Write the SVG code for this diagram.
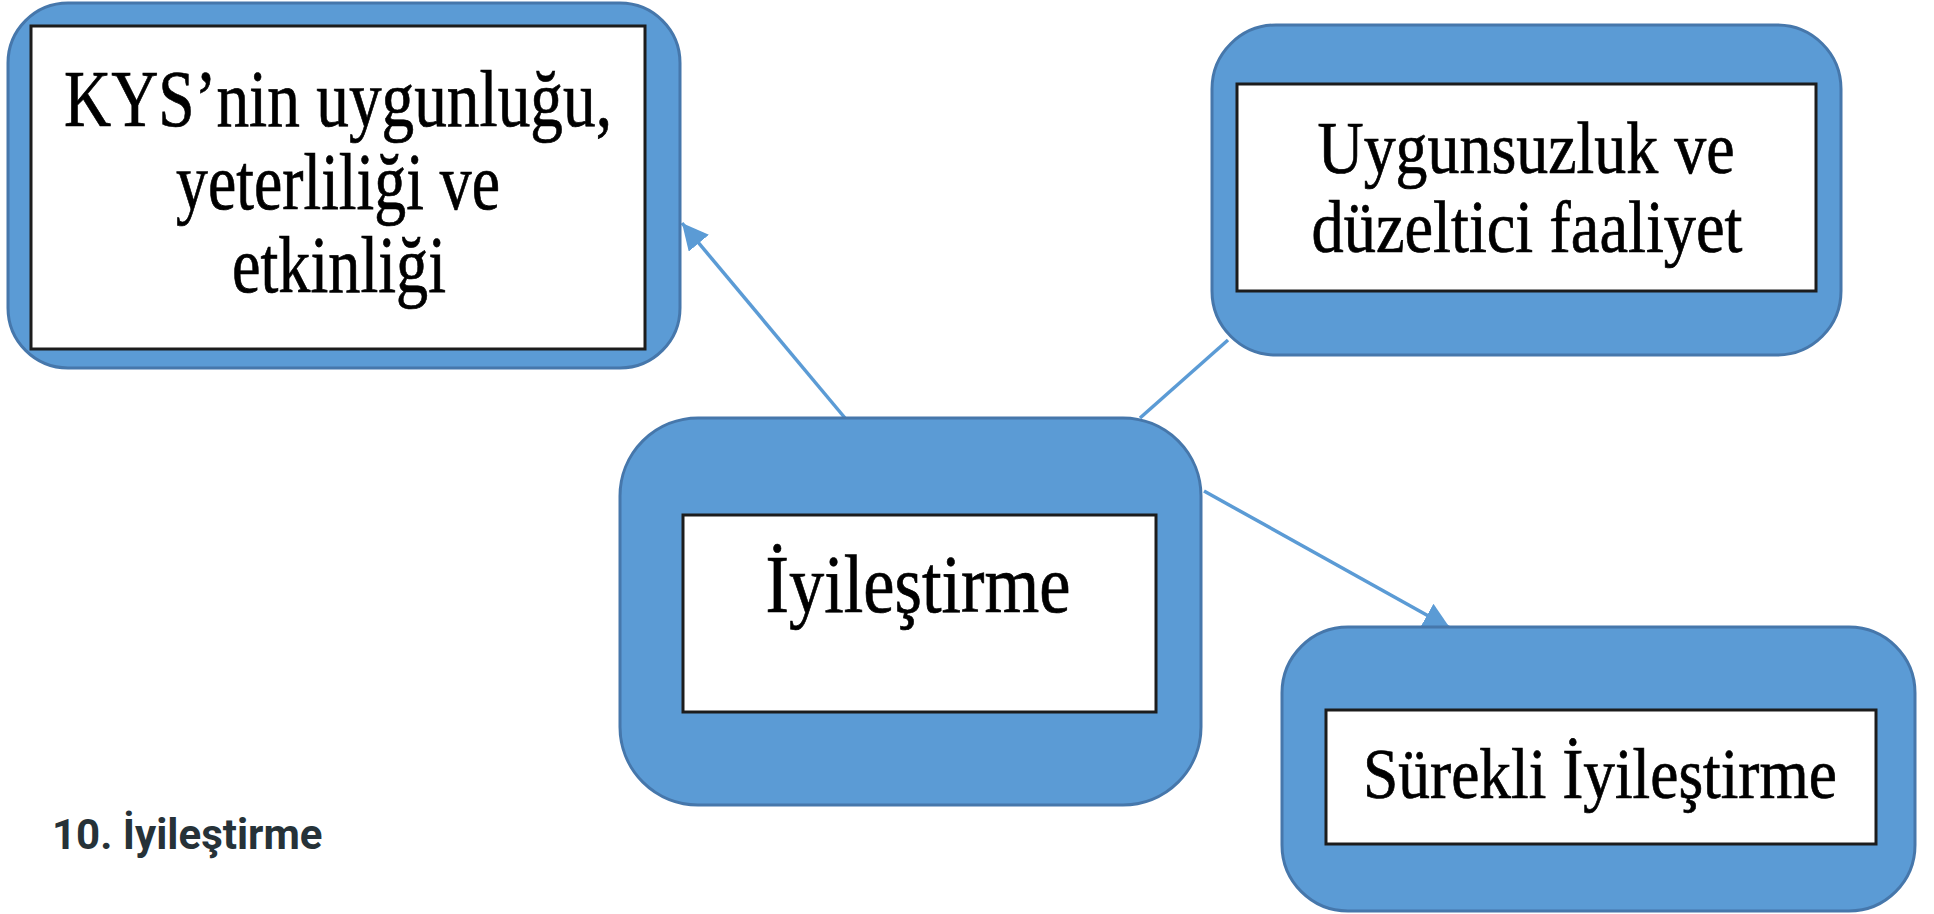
<svg xmlns="http://www.w3.org/2000/svg" width="1934" height="914" viewBox="0 0 1934 914">
  <style>
    .outer { fill: #5b9bd5; stroke: #4677ab; stroke-width: 3; }
    .inner { fill: #ffffff; stroke: #1c1c1c; stroke-width: 3; }
    .label { font-family: "Liberation Serif", "Times New Roman", serif; fill: #000000; stroke: #000000; stroke-width: 0.7; text-anchor: middle; }
    .link { stroke: #5b9bd5; stroke-width: 3.5; fill: none; }
    .caption { font-family: Roboto, "Liberation Sans", sans-serif; font-weight: 700; font-size: 42px; fill: #263238; }
  </style>
  <defs>
    <marker id="arrow" markerWidth="7.5" markerHeight="7.5" refX="7.5" refY="3.75" orient="auto" markerUnits="strokeWidth">
      <path d="M0,0 L7.5,3.75 L0,7.5 Z" fill="#5b9bd5"/>
    </marker>
  </defs>

  <rect width="1934" height="914" fill="#ffffff"/>

  <!-- connectors (drawn first so the boxes sit on top of them) -->
  <g id="connectors">
    <line class="link" x1="845" y1="418" x2="682" y2="223" marker-end="url(#arrow)"/>
    <line class="link" x1="1140" y1="418" x2="1228" y2="340"/>
    <line class="link" x1="1204" y1="491" x2="1450" y2="628" marker-end="url(#arrow)"/>
  </g>

  <!-- KYS suitability node -->
  <g id="node-kys">
    <rect class="outer" x="8" y="3" width="672" height="365" rx="60" ry="60"/>
    <rect class="inner" x="31" y="26" width="614" height="323"/>
    <text class="label" font-size="80" x="338" y="126" textLength="548" lengthAdjust="spacingAndGlyphs">KYS’nin uygunluğu,</text>
    <text class="label" font-size="80" x="338" y="209" textLength="324" lengthAdjust="spacingAndGlyphs">yeterliliği ve</text>
    <text class="label" font-size="80" x="339" y="292" textLength="214" lengthAdjust="spacingAndGlyphs">etkinliği</text>
  </g>

  <!-- nonconformity node -->
  <g id="node-nonconformity">
    <rect class="outer" x="1212" y="25" width="629" height="330" rx="64" ry="64"/>
    <rect class="inner" x="1237" y="84" width="579" height="207"/>
    <text class="label" font-size="74" x="1526" y="173" textLength="417" lengthAdjust="spacingAndGlyphs">Uygunsuzluk ve</text>
    <text class="label" font-size="74" x="1527" y="252" textLength="431" lengthAdjust="spacingAndGlyphs">düzeltici faaliyet</text>
  </g>

  <!-- central improvement node -->
  <g id="node-improvement">
    <rect class="outer" x="620" y="418" width="581" height="387" rx="78" ry="78"/>
    <rect class="inner" x="683" y="515" width="473" height="197"/>
    <text class="label" font-size="82" x="918" y="612" textLength="305" lengthAdjust="spacingAndGlyphs">İyileştirme</text>
  </g>

  <!-- continual improvement node -->
  <g id="node-continual">
    <rect class="outer" x="1282" y="627" width="633" height="284" rx="66" ry="66"/>
    <rect class="inner" x="1326" y="710" width="550" height="134"/>
    <text class="label" font-size="72" x="1600" y="798" textLength="474" lengthAdjust="spacingAndGlyphs">Sürekli İyileştirme</text>
  </g>

  <text class="caption" x="52" y="849">10. İyileştirme</text>
</svg>
